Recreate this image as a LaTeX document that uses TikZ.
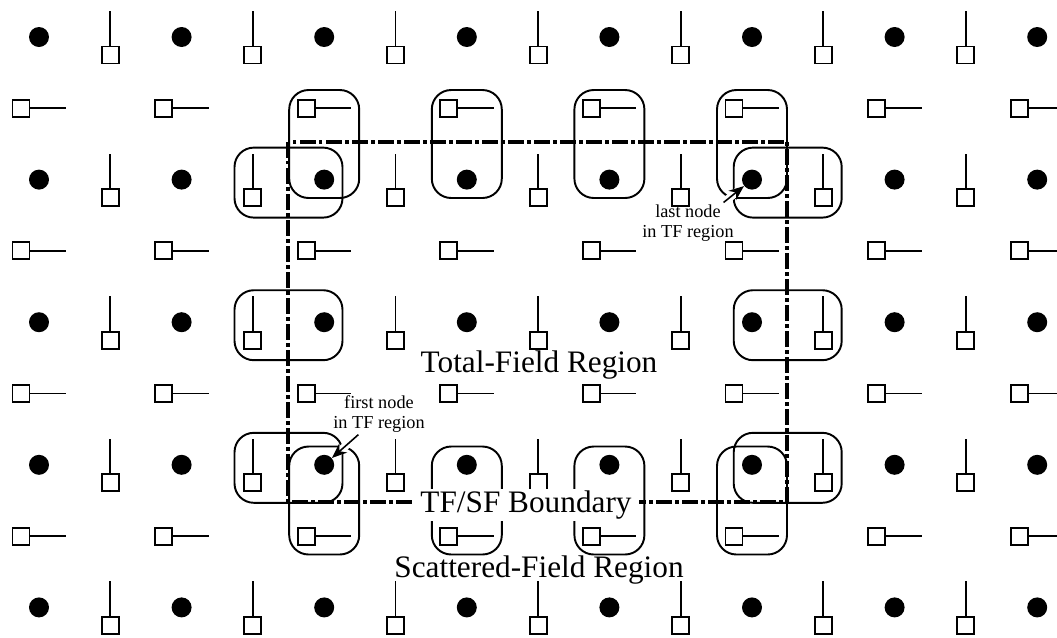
\documentclass[tikz,border=0pt]{standalone}
\usepackage{fontspec}
\setmainfont{Liberation Serif}
\usetikzlibrary{arrows.meta}

\tikzset{
  exfield/.pic={
    \draw[line width=1.1pt] (-8.5,-8.5) rectangle (8.5,8.5);
    \draw[line width=1.1pt] (8.5,0) -- (45,0);
  },
  eyfield/.pic={
    \draw[line width=1.1pt] (-8.5,-8.5) rectangle (8.5,8.5);
    \draw[line width=1.1pt] (0,-8.5) -- (0,-44);
  }
}

\begin{document}
\begin{tikzpicture}[
  x=0.02cm,
  y=-0.02cm,
  hz/.style={
    circle,
    fill=black,
    minimum size=4mm,
    inner sep=0pt
  },
  vring/.style={
    draw,
    rounded corners=11pt,
    line width=1.1pt,
    minimum width=14mm,
    minimum height=21.6mm,
    inner sep=0pt
  },
  hring/.style={
    draw,
    rounded corners=11pt,
    line width=1.1pt,
    minimum width=21.6mm,
    minimum height=14mm,
    inner sep=0pt
  },
  boundary/.style={line width=2pt, dash pattern=on 9pt off 2pt on 1.8pt off 2pt},
  region/.style={font=\fontsize{17.8}{20}\selectfont, anchor=base},
  note/.style={font=\fontsize{10.4}{11.5}\selectfont, align=center, inner sep=1pt},
  pointer/.style={
    -{Stealth[length=3mm,width=2.4mm]},
    line width=0.9pt,
    preaction={draw=white, line width=4.5pt, -}
  }
]

\useasboundingbox (0,0) rectangle (1057,637);

% Grid of field samples.
\foreach \i in {0,...,7}
  \foreach \j in {0,...,4}
    \node[hz] (hz-\i-\j) at ({39+142.6*\i},{37+142.6*\j}) {};
\foreach \i in {0,...,6}
  \foreach \j in {0,...,4}
    \pic at ({110.3+142.6*\i},{55+142.6*\j}) {eyfield};
\foreach \i in {0,...,7}
  \foreach \j in {0,...,3}
    \pic at ({21+142.6*\i},{108.3+142.6*\j}) {exfield};

% Updates that need a correction.
\foreach \x [count=\k] in {324.2,466.8,609.4,752}{
  \node[vring] (vt-\k) at (\x,144) {};
  \node[vring] (vb-\k) at (\x,500.5) {};
}
\foreach \y [count=\k] in {182.6,325.2,467.8}{
  \node[hring] (hl-\k) at (288.5,\y) {};
  \node[hring] (hr-\k) at (787.7,\y) {};
}

\draw[boundary] (288,142) rectangle (787,502);

\node[region] (tfreg) at (539,372) {Total-Field Region};
\node[region, fill=white, inner xsep=4pt, inner ysep=1pt] (tfsf) at (526,512) {TF/SF Boundary};
\node[region] (sfreg) at (539,577) {Scattered-Field Region};

\node[note] (firstlbl) at (379,414) {first node\\in TF region};
\node[note] (lastlbl) at (688,223) {last node\\in TF region};
\draw[pointer] (firstlbl.225) -- (hz-2-3);
\draw[pointer] (lastlbl.30) -- (hz-5-1);

\end{tikzpicture}
\end{document}
